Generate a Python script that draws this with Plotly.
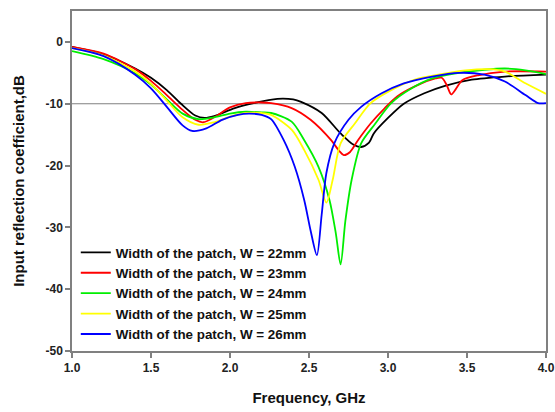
import plotly.graph_objects as go

# ---- data ----
names = ["Width of the patch, W = 22mm", "Width of the patch, W = 23mm",
         "Width of the patch, W = 24mm", "Width of the patch, W = 25mm",
         "Width of the patch, W = 26mm"]
colors = ["#000000", "#ff0000", "#00ee00", "#ffff00", "#0000ff"]

f_w22 = [1.0, 1.2, 1.4, 1.5, 1.6, 1.69, 1.78, 1.84, 1.9, 2.03, 2.15, 2.3, 2.4, 2.45, 2.58, 2.70, 2.78, 2.83, 2.88, 2.91, 3.0, 3.10, 3.23, 3.36, 3.53, 3.74, 4.0]
s_w22 = [-0.8, -2.0, -4.3, -5.8, -7.8, -10.0, -11.9, -12.3, -12.0, -10.7, -9.9, -9.2, -9.3, -9.7, -11.5, -14.8, -16.6, -17.0, -16.3, -14.8, -12.3, -10.0, -8.3, -7.1, -6.1, -5.6, -5.3]

f_w23 = [1.0, 1.2, 1.4, 1.5, 1.6, 1.7, 1.78, 1.83, 1.9, 2.0, 2.1, 2.2, 2.26, 2.39, 2.51, 2.64, 2.69, 2.72, 2.76, 2.81, 2.89, 2.98, 3.06, 3.17, 3.30, 3.34, 3.37, 3.40, 3.43, 3.47, 3.57, 3.74, 4.0]
s_w23 = [-0.8, -1.9, -4.4, -6.3, -8.6, -11.0, -12.6, -13.0, -12.2, -10.6, -9.9, -9.8, -9.9, -10.7, -12.6, -15.9, -17.6, -18.3, -17.8, -15.9, -13.2, -10.7, -8.8, -7.2, -5.9, -5.8, -6.9, -8.5, -7.6, -6.2, -5.4, -4.8, -4.8]

f_w24 = [1.0, 1.2, 1.4, 1.5, 1.6, 1.7, 1.8, 1.9, 2.0, 2.1, 2.2, 2.26, 2.39, 2.47, 2.56, 2.63, 2.67, 2.70, 2.73, 2.77, 2.83, 2.92, 3.02, 3.15, 3.28, 3.45, 3.61, 3.74, 3.87, 4.0]
s_w24 = [-1.5, -2.8, -5.1, -6.9, -9.3, -11.6, -12.5, -12.2, -11.6, -11.3, -11.4, -11.5, -12.9, -15.9, -20.2, -25.6, -31.0, -36.0, -29.0, -22.3, -16.4, -13.2, -9.9, -7.5, -5.9, -5.0, -4.5, -4.3, -4.6, -5.2]

f_w25 = [1.0, 1.2, 1.4, 1.5, 1.6, 1.7, 1.8, 1.9, 2.0, 2.1, 2.2, 2.26, 2.39, 2.47, 2.56, 2.61, 2.65, 2.70, 2.79, 2.89, 3.02, 3.17, 3.32, 3.49, 3.64, 3.74, 3.87, 4.0]
s_w25 = [-1.0, -2.2, -4.8, -6.8, -9.5, -12.2, -13.4, -13.0, -12.1, -11.5, -11.5, -11.8, -14.2, -17.5, -22.3, -26.0, -22.3, -16.4, -13.2, -9.9, -7.8, -6.1, -5.3, -4.6, -4.4, -4.8, -6.7, -8.4]

f_w26 = [1.0, 1.2, 1.4, 1.5, 1.6, 1.7, 1.76, 1.85, 1.95, 2.05, 2.12, 2.2, 2.26, 2.34, 2.41, 2.47, 2.51, 2.55, 2.58, 2.61, 2.66, 2.75, 2.83, 2.96, 3.10, 3.28, 3.45, 3.61, 3.74, 3.87, 3.95, 4.0]
s_w26 = [-1.0, -2.3, -5.3, -7.5, -10.5, -13.5, -14.4, -14.0, -12.6, -11.8, -11.6, -11.8, -12.5, -15.9, -20.2, -25.6, -30.5, -34.5, -28.0, -21.2, -16.4, -12.6, -10.5, -8.3, -6.7, -5.6, -5.0, -5.3, -6.4, -8.6, -9.9, -9.9]

freqs = [f_w22, f_w23, f_w24, f_w25, f_w26]
vals = [s_w22, s_w23, s_w24, s_w25, s_w26]

x_ticks = [1.0, 1.5, 2.0, 2.5, 3.0, 3.5, 4.0]
y_ticks = [0, -10, -20, -30, -40, -50]
ref_level = -10

FONT = "Liberation Sans, Arial, sans-serif"

fig = go.Figure()
for n, c, fx, sy in zip(names, colors, freqs, vals):
    fig.add_trace(go.Scatter(x=fx, y=sy, mode="lines", name=n,
                             line=dict(color=c, width=1.8, shape="spline", smoothing=0.8)))

fig.add_shape(type="line", xref="x", yref="y", x0=1.0, x1=4.0, y0=ref_level, y1=ref_level,
              line=dict(color="#808080", width=1.2), layer="below")

axis_common = dict(showgrid=False, zeroline=False, showline=True, linecolor="#808080", linewidth=1.5,
                   mirror=True, ticks="outside", tickcolor="#808080", ticklen=5, tickwidth=1.5,
                   automargin=False,
                   tickfont=dict(family=FONT, size=12, color="#222222", weight="bold"))

fig.update_xaxes(range=[1.0, 4.0], tickvals=x_ticks, ticktext=[f"{v:.1f}" for v in x_ticks],
                 title=dict(text="Frequency, GHz", font=dict(family=FONT, size=15, color="#111111", weight="bold"), standoff=18),
                 **axis_common)
fig.update_yaxes(range=[-50, 5], tickvals=y_ticks, ticktext=[str(v) for v in y_ticks],
                 title=dict(text="Input reflection coefficient,dB", font=dict(family=FONT, size=15, color="#111111", weight="bold"), standoff=17),
                 **axis_common)

fig.update_layout(
    width=555, height=412,
    margin=dict(l=72, r=9, t=11, b=61),
    plot_bgcolor="white", paper_bgcolor="white",
    showlegend=True,
    legend=dict(x=0.008, y=0.335, xanchor="left", yanchor="top", bgcolor="rgba(0,0,0,0)",
                font=dict(family=FONT, size=13.4, color="#111111", weight="bold"),
                tracegroupgap=0, itemwidth=30),
)

fig.write_html("out.html")
